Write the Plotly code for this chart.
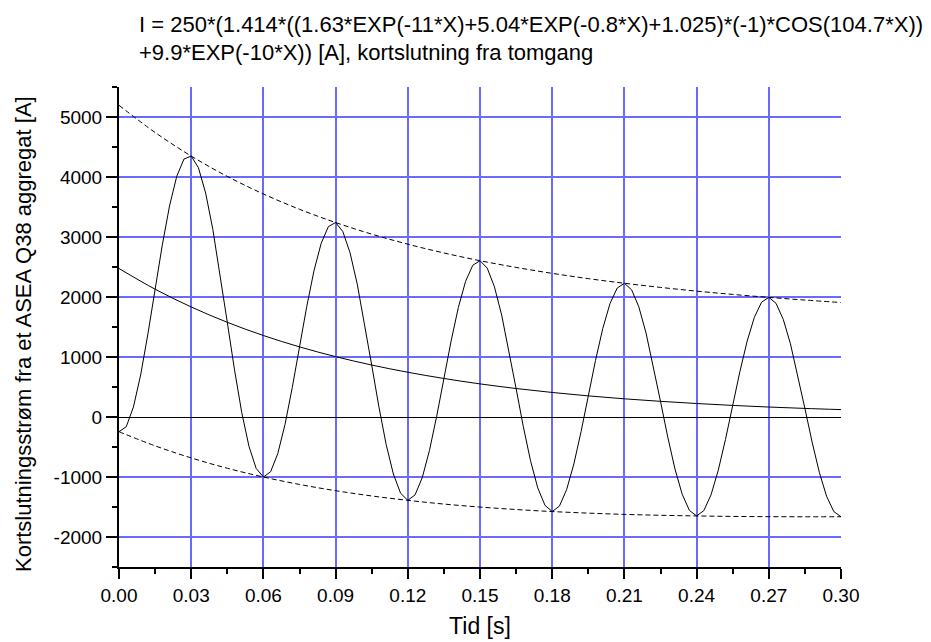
import plotly.graph_objects as go

# time axis (s), sampled every 0.003 s
t = [0.000, 0.003, 0.006, 0.009, 0.012, 0.015, 0.018, 0.021, 0.024, 0.027,
     0.030, 0.033, 0.036, 0.039, 0.042, 0.045, 0.048, 0.051, 0.054, 0.057,
     0.060, 0.063, 0.066, 0.069, 0.072, 0.075, 0.078, 0.081, 0.084, 0.087,
     0.090, 0.093, 0.096, 0.099, 0.102, 0.105, 0.108, 0.111, 0.114, 0.117,
     0.120, 0.123, 0.126, 0.129, 0.132, 0.135, 0.138, 0.141, 0.144, 0.147,
     0.150, 0.153, 0.156, 0.159, 0.162, 0.165, 0.168, 0.171, 0.174, 0.177,
     0.180, 0.183, 0.186, 0.189, 0.192, 0.195, 0.198, 0.201, 0.204, 0.207,
     0.210, 0.213, 0.216, 0.219, 0.222, 0.225, 0.228, 0.231, 0.234, 0.237,
     0.240, 0.243, 0.246, 0.249, 0.252, 0.255, 0.258, 0.261, 0.264, 0.267,
     0.270, 0.273, 0.276, 0.279, 0.282, 0.285, 0.288, 0.291, 0.294, 0.297,
     0.300]

# short-circuit current (A)
current = [-245, -163, 167, 702, 1382, 2130, 2868, 3518, 4012, 4299,
           4349, 4155, 3734, 3124, 2383, 1578, 785, 75, -489, -857,
           -1000, -912, -607, -121, 492, 1169, 1839, 2435, 2894, 3173,
           3241, 3091, 2738, 2214, 1570, 866, 169, -456, -950, -1271,
           -1389, -1299, -1011, -558, 12, 642, 1267, 1825, 2260, 2529,
           2605, 2482, 2169, 1699, 1115, 475, -160, -730, -1182, -1472,
           -1576, -1485, -1210, -782, -243, 352, 944, 1473, 1889, 2149,
           2229, 2120, 1835, 1399, 857, 261, -332, -865, -1286, -1556,
           -1649, -1560, -1297, -888, -374, 193, 758, 1264, 1662, 1914,
           1994, 1895, 1628, 1219, 707, 143, -418, -922, -1320, -1575,
           -1662]

# envelope / DC component samples
env_t = [0.000, 0.015, 0.030, 0.045, 0.060, 0.075, 0.090, 0.105, 0.120, 0.135,
         0.150, 0.165, 0.180, 0.195, 0.210, 0.225, 0.240, 0.255, 0.270, 0.285,
         0.300]
upper_env = [5195, 4742, 4349, 4010, 3717, 3462, 3241, 3048, 2880, 2734,
             2605, 2493, 2394, 2306, 2229, 2160, 2098, 2043, 1994, 1949, 1908]
lower_env = [-245, -481, -682, -854, -1000, -1124, -1228, -1316, -1389, -1451,
             -1501, -1542, -1576, -1602, -1623, -1638, -1649, -1657, -1661, -1663, -1662]
dc_part = [2475, 2130, 1834, 1578, 1358, 1169, 1006, 866, 746, 642,
           552, 475, 409, 352, 303, 261, 225, 193, 166, 143, 123]

x_grid = [0.03, 0.06, 0.09, 0.12, 0.15, 0.18, 0.21, 0.24, 0.27]
y_tickvals = [-2000, -1000, 0, 1000, 2000, 3000, 4000, 5000]
y_ticktext = ["-2000", "-1000", "0", "1000", "2000", "3000", "4000", "5000"]

title_l1 = "I = 250*(1.414*((1.63*EXP(-11*X)+5.04*EXP(-0.8*X)+1.025)*(-1)*COS(104.7*X))"
title_l2 = "+9.9*EXP(-10*X)) [A], kortslutning fra tomgang"
y_title = "Kortslutningsstrøm fra et ASEA Q38 aggregat [A]"

FONT = "Arial, Liberation Sans, sans-serif"
GRID = "#6a6aff"

fig = go.Figure()
fig.add_trace(go.Scatter(x=env_t, y=upper_env, mode="lines", hoverinfo="skip",
                         line=dict(color="black", width=1, dash="5px,3px", shape="spline")))
fig.add_trace(go.Scatter(x=env_t, y=lower_env, mode="lines", hoverinfo="skip",
                         line=dict(color="black", width=1, dash="5px,3px", shape="spline")))
fig.add_trace(go.Scatter(x=env_t, y=dc_part, mode="lines", hoverinfo="skip", xaxis="x2",
                         line=dict(color="black", width=1, shape="spline")))
fig.add_trace(go.Scatter(x=t, y=current, mode="lines", hoverinfo="skip",
                         line=dict(color="black", width=1)))

for txt, ypos in ((title_l1, 1.130), (title_l2, 1.071)):
    fig.add_annotation(text=txt, xref="paper", yref="paper",
                       x=(137 - 119) / 722, y=ypos, xanchor="left", yanchor="middle",
                       showarrow=False, font=dict(family=FONT, size=22, color="black"))

fig.add_annotation(text=y_title, xref="paper", yref="paper",
                   x=(23 - 119) / 722, y=(567 - 334) / 480, xanchor="center", yanchor="middle",
                   textangle=-90, showarrow=False,
                   font=dict(family=FONT, size=22, color="black"))

# the page body adds an 8px offset at top-left, so the figure is 8px smaller
fig.update_layout(
    width=923, height=634,
    margin=dict(l=111, r=90, t=79, b=75),
    paper_bgcolor="white", plot_bgcolor="white",
    showlegend=False,
    font=dict(family=FONT, color="black", size=19),
    xaxis=dict(range=[0, 0.30], showgrid=False, zeroline=False, automargin=False,
               showline=True, linecolor="black", linewidth=2,
               ticks="outside", ticklen=10, tickwidth=2, tickcolor="black",
               tick0=0, dtick=0.03, tickformat=".2f",
               tickfont=dict(size=19),
               minor=dict(ticks="outside", ticklen=5, tickwidth=2, tickcolor="black",
                          tick0=0, dtick=0.015, showgrid=False),
               title=dict(text="Tid [s]", font=dict(size=23), standoff=13)),
    xaxis2=dict(range=[0, 0.30], overlaying="x", anchor="y", automargin=False,
                showgrid=True, gridcolor=GRID, gridwidth=1.5,
                tickvals=x_grid, showticklabels=False, ticks="",
                showline=False, zeroline=False),
    yaxis=dict(range=[-2500, 5500], showgrid=True, gridcolor=GRID, gridwidth=1.5,
               automargin=False,
               zeroline=True, zerolinecolor="black", zerolinewidth=1,
               showline=True, linecolor="black", linewidth=2,
               ticks="outside", ticklen=11, tickwidth=2, tickcolor="black",
               tickvals=y_tickvals, ticktext=y_ticktext, tickfont=dict(size=19),
               minor=dict(ticks="outside", ticklen=5, tickwidth=2, tickcolor="black",
                          tick0=0, dtick=500, showgrid=False)),
)

fig.write_html("out.html")
